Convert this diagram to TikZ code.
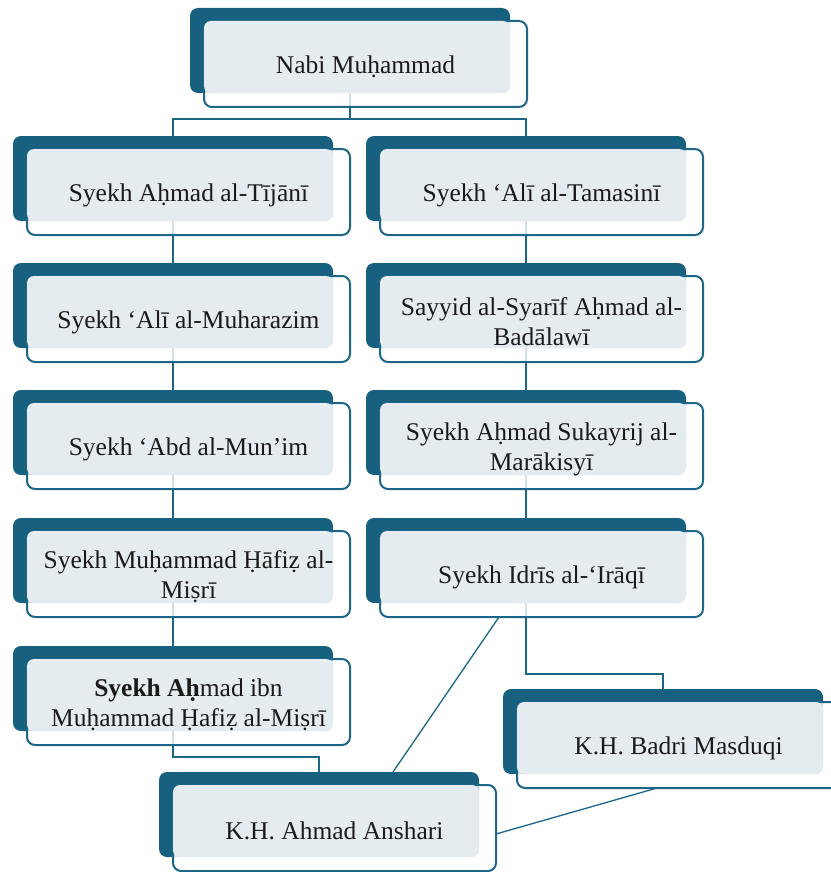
\documentclass[tikz,border=0pt]{standalone}
\usepackage{fontspec}
\setmainfont{Liberation Serif}
\usetikzlibrary{calc,backgrounds}
\definecolor{darkb}{HTML}{176080}
\definecolor{lineb}{HTML}{1D6688}
\definecolor{lightb}{HTML}{E5ECF0}
\definecolor{txtc}{HTML}{1A1A1A}
\newcommand\famBox[4]{%
  \node[darkbox] (d#1) at (#2,#3) {};
  \node[outbox] (o#1) at ($(d#1.north west)+(14,13)$) {};
  \node[lightbox] (l#1) at (o#1.north west) {};
  \node[txt] (t#1) at ($(o#1.center)+(0,3)$) {#4};
}
\begin{document}
\begin{tikzpicture}[x=1pt,y=-1pt,
  darkbox/.style={draw=none,fill=darkb,rounded corners=8pt,minimum width=320pt,minimum height=85pt,inner sep=0pt,outer sep=0pt,anchor=north west},
  outbox/.style={draw=lineb,line width=2pt,fill=white,fill opacity=0.8,rounded corners=8pt,minimum width=323pt,minimum height=86pt,inner sep=0pt,outer sep=0pt,anchor=north west},
  lightbox/.style={fill=lightb,rounded corners=7pt,minimum width=306pt,minimum height=72pt,inner sep=0pt,outer sep=0pt,anchor=north west},
  txt/.style={font=\fontsize{25.5}{30}\selectfont,text=txtc,align=center,inner sep=0pt},
  conn/.style={draw=lineb,line width=2.3pt},
  diag/.style={draw=lineb,line width=1.3pt}]
\useasboundingbox (0,0) rectangle (830,872);

\famBox{0}{190}{8}{Nabi Muḥammad}
\famBox{L1}{13}{136}{Syekh Aḥmad al-Tījānī}
\famBox{L2}{13}{263}{Syekh ‘Alī al-Muharazim}
\famBox{L3}{13}{390}{Syekh ‘Abd al-Mun’im}
\famBox{L4}{13}{518}{Syekh Muḥammad Ḥāfiẓ al-\\Miṣrī}
\famBox{L5}{13}{646}{\textbf{Syekh Aḥ}mad ibn\\Muḥammad Ḥafiẓ al-Miṣrī}
\famBox{R1}{366}{136}{Syekh ‘Alī al-Tamasinī}
\famBox{R2}{366}{263}{Sayyid al-Syarīf Aḥmad al-\\Badālawī}
\famBox{R3}{366}{390}{Syekh Aḥmad Sukayrij al-\\Marākisyī}
\famBox{R4}{366}{518}{Syekh Idrīs al-‘Irāqī}
\famBox{B}{503}{689}{K.H. Badri Masduqi}
\famBox{A}{159}{772}{K.H. Ahmad Anshari}

\begin{pgfonlayer}{background}
  \draw[conn] (d0.south) -- ($(d0.south |- dR1.north)+(0,-17)$);
  \draw[conn] (dL1.north) |- ($(dR1.north)+(0,-17)$) -- (dR1.north);
  \draw[conn] (dL1.south) -- (dL2.north);
  \draw[conn] (dL2.south) -- (dL3.north);
  \draw[conn] (dL3.south) -- (dL4.north);
  \draw[conn] (dL4.south) -- (dL5.north);
  \draw[conn] (dR1.south) -- (dR2.north);
  \draw[conn] (dR2.south) -- (dR3.north);
  \draw[conn] (dR3.south) -- (dR4.north);
  \draw[conn] (dL5.south) |- ($(dA.north)+(0,-15)$) -- (dA.north);
  \draw[conn] (dR4.south) |- ($(dB.north)+(0,-15)$) -- (dB.north);
  \draw[diag] ([xshift=-42.5pt]oR4.south) -- ([xshift=74pt]dA.north);
  \draw[diag] ([xshift=-21.5pt]oB.south) -- ([yshift=-6pt]oA.east);
\end{pgfonlayer}
\end{tikzpicture}
\end{document}
